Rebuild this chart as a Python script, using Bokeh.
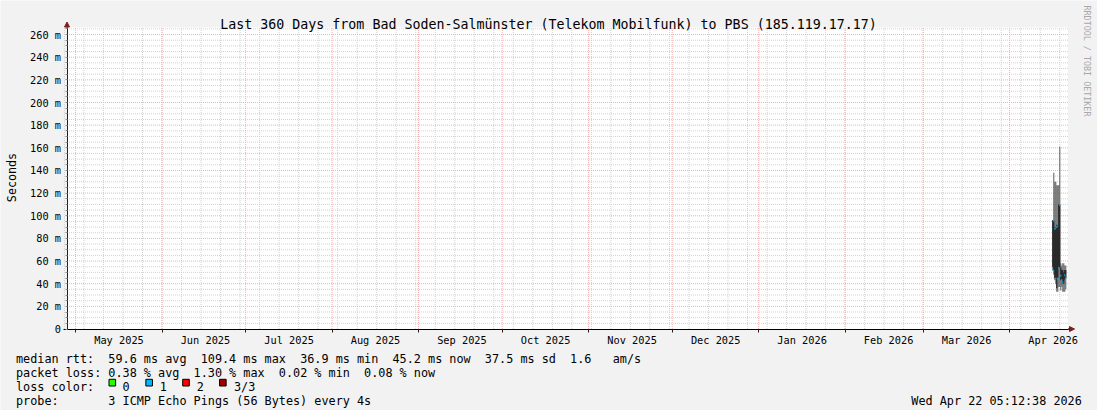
import re
import pandas as pd
from math import pi
from bokeh.plotting import figure
from bokeh.models import (Range1d, FixedTicker, Label, Arrow, NormalHead,
                          DatetimeTickFormatter, ColumnDataSource)
from bokeh.embed import file_html
from bokeh.resources import INLINE

# ---------------- data ----------------
title_text = "Last 360 Days from Bad Soden-Salmünster (Telekom Mobilfunk) to PBS (185.119.17.17)"
y_axis_label = "Seconds"
watermark = "RRDTOOL / TOBI OETIKER"

y_ticks = [0, 20, 40, 60, 80, 100, 120, 140, 160, 180, 200, 220, 240, 260]
y_tick_labels = ["0", "20 m", "40 m", "60 m", "80 m", "100 m", "120 m", "140 m",
                 "160 m", "180 m", "200 m", "220 m", "240 m", "260 m"]

month_starts = ["2025-05-01", "2025-06-01", "2025-07-01", "2025-08-01", "2025-09-01",
                "2025-10-01", "2025-11-01", "2025-12-01", "2026-01-01", "2026-02-01",
                "2026-03-01", "2026-04-01"]
month_labels = ["May 2025", "Jun 2025", "Jul 2025", "Aug 2025", "Sep 2025", "Oct 2025",
                "Nov 2025", "Dec 2025", "Jan 2026", "Feb 2026", "Mar 2026", "Apr 2026"]

# per-column samples (ms)
times = ["2026-04-16 11:50", "2026-04-16 20:30", "2026-04-17 05:10", "2026-04-17 13:40",
         "2026-04-17 22:20", "2026-04-18 07:00", "2026-04-18 15:30", "2026-04-19 00:10",
         "2026-04-19 08:50", "2026-04-19 17:20", "2026-04-20 02:00", "2026-04-20 10:40",
         "2026-04-20 19:10", "2026-04-21 03:50"]
ping_max = [96, 138, 130, 130, 127, 127, 127, 161, 58, 56, 58, 58, 56, 56]
smoke_hi = [96, 96, 90, 88, 92, 90, 110, 110, 54, 52, 52, 50, 52, 52]
smoke_lo = [55, 52, 45, 44, 36, 45, 54, 54, 43, 44, 40, 40, 44, 45]
ping_min = [52, 48, 43, 40, 33, 33, 37, 37, 34, 37, 33, 33, 33, 35]
median_rtt = [52, 95.5, 88.6, 44.5, 90.1, 44.5, 54, 109.4, 47, 43, 41, 36.9, 47.4, 45.2]
loss_level = [1, 1, 1, 1, 1, 1, 1, 1, 1, 1, 1, 1, 1, 1]

loss_colors = ["#26ff00", "#00b8ff", "#ff0000", "#a00000"]
loss_names = ["0", "1", "2", "3/3"]

legend_line1 = "median rtt:  59.6 ms avg  109.4 ms max  36.9 ms min  45.2 ms now  37.5 ms sd  1.6   am/s"
legend_line2 = "packet loss: 0.38 % avg  1.30 % max  0.02 % min  0.08 % now"
legend_line3 = "loss color:"
legend_line4 = "probe:       3 ICMP Echo Pings (56 Bytes) every 4s"
timestamp_text = "Wed Apr 22 05:12:38 2026"

# ---------------- layout constants ----------------
W, H = 1097, 410
PLOT_L, PLOT_W = 66.5, 1001.0           # plot area left edge / width (px)
Y0_PX, PX_PER_MS = 328.5, 1.1325        # pixel row of 0 ms, px per ms
PLOT_TOP = 27.0
PX_PER_DAY = 2.78816
DAY_MS = 86400000
FONT = "DejaVu Sans Mono"
CHAR_W = 7.104                          # advance of 11.8px DejaVu Sans Mono

T0 = pd.Timestamp("2025-04-27 22:15")


def ms(ts):
    return int(pd.Timestamp(ts).value // 10**6)


t0 = ms(T0)
t1 = int(t0 + PLOT_W / PX_PER_DAY * DAY_MS)
YMAX = (Y0_PX - PLOT_TOP) / PX_PER_MS

x_lo = t0 - PLOT_L / PX_PER_DAY * DAY_MS
x_hi = x_lo + W / PX_PER_DAY * DAY_MS
y_hi = Y0_PX / PX_PER_MS
y_lo = -(H - Y0_PX) / PX_PER_MS


def X(px):
    return x_lo + px / PX_PER_DAY * DAY_MS


def Y(py):
    return y_hi - py / PX_PER_MS


p = figure(width=W, height=H, x_axis_type="datetime", output_backend="svg",
           toolbar_location=None, title_location=None,
           min_border=0, min_border_left=0, min_border_right=0,
           min_border_top=0, min_border_bottom=0,
           x_range=Range1d(x_lo, x_hi), y_range=Range1d(y_lo, y_hi))
p.border_fill_color = "#f2f2f2"
p.background_fill_color = "#f2f2f2"
p.outline_line_color = None
p.xgrid.visible = False
p.ygrid.visible = False

# ---------------- plot area + grid ----------------
week_ticks = [ms(d) for d in pd.date_range("2025-04-27", "2026-04-22", freq="W-SUN")]
month_ticks = [ms(d) for d in month_starts]
minor_y = [v for v in range(5, 270, 5) if v % 20 != 0 and v < YMAX]

p.quad(left=[t0], right=[t1], bottom=[0], top=[YMAX], fill_color="#ffffff",
       line_color=None)

minor_c = "#d2d2d2"
major_c = "#f2b0b0"
p.segment(x0=week_ticks, y0=0, x1=week_ticks, y1=YMAX, line_color=minor_c,
          line_dash="1 1", line_width=1)
p.segment(x0=t0, y0=minor_y, x1=t1, y1=minor_y, line_color=minor_c,
          line_dash="1 1", line_width=1)
p.segment(x0=month_ticks, y0=0, x1=month_ticks, y1=YMAX, line_color=major_c,
          line_dash="1 1", line_width=1)
p.segment(x0=t0, y0=y_ticks[1:], x1=t1, y1=y_ticks[1:], line_color=major_c,
          line_dash="1 1", line_width=1)

# ---------------- data glyphs ----------------
src = ColumnDataSource(dict(
    t=[ms(t) for t in times], hi=ping_max, shi=smoke_hi, slo=smoke_lo, lo=ping_min,
    med=median_rtt, col=[loss_colors[l] for l in loss_level]))
col_w = 8.6 * 3600 * 1000
p.vbar(x="t", width=col_w, top="hi", bottom="lo", source=src,
       fill_color="#5c5c5c", line_color=None)
p.vbar(x="t", width=col_w, top="shi", bottom="slo", source=src,
       fill_color="#141414", line_color=None)
p.rect(x="t", y="med", width=col_w, height=2, height_units="screen", source=src,
       fill_color="col", line_color=None)

# ---------------- axes ----------------
label_pos = [ms(pd.Timestamp(d) + pd.Timedelta(hours=374)) for d in month_starts]
xa = p.xaxis[0]
xa.fixed_location = 0
xa.bounds = (X(62.5), t1)
xa.ticker = FixedTicker(ticks=label_pos, minor_ticks=month_ticks)
xa.formatter = DatetimeTickFormatter(
    microseconds="%b %Y", milliseconds="%b %Y", seconds="%b %Y", minsec="%b %Y",
    minutes="%b %Y", hourmin="%b %Y", hours="%b %Y", days="%b %Y", months="%b %Y",
    years="%b %Y")
xa.major_label_overrides = {k: v for k, v in zip(label_pos, month_labels)}
xa.major_tick_line_color = None
xa.major_tick_out = 0
xa.major_tick_in = 0
xa.minor_tick_out = 3
xa.minor_tick_in = 0
xa.minor_tick_line_color = "#1f1f1f"
xa.axis_line_color = "#000000"
xa.major_label_standoff = 2
xa.major_label_text_font = FONT
xa.major_label_text_font_size = "10.3px"
xa.major_label_text_color = "#000000"

ya = p.yaxis[0]
ya.fixed_location = t0
ya.bounds = (0, YMAX)
ya.ticker = FixedTicker(ticks=y_ticks, minor_ticks=minor_y)
ya.major_label_overrides = {k: v for k, v in zip(y_ticks, y_tick_labels)}
ya.major_tick_out = 2
ya.major_tick_in = 0
ya.minor_tick_out = 2
ya.minor_tick_in = 0
ya.major_tick_line_color = "#8f8f8f"
ya.minor_tick_line_color = "#8f8f8f"
ya.axis_line_color = "#1f1f1f"
ya.major_label_standoff = 4
ya.major_label_text_font = FONT
ya.major_label_text_font_size = "10.3px"
ya.major_label_text_color = "#000000"

# ---------------- arrows ----------------
arrow_c = "#801f1f"
p.add_layout(Arrow(end=NormalHead(size=5, fill_color=arrow_c, line_color=arrow_c,
                                  line_width=1),
                   x_start=t0, y_start=YMAX, x_end=t0, y_end=Y(21.5),
                   line_color="#1f1f1f", line_width=1))
p.add_layout(Arrow(end=NormalHead(size=5, fill_color=arrow_c, line_color=arrow_c,
                                  line_width=1),
                   x_start=t1, y_start=0, x_end=X(1074), y_end=0,
                   line_color="#000000", line_width=1))


# ---------------- texts ----------------
def lab(text, px, py, size, align="left", baseline="alphabetic", angle=0.0,
        color="#000000"):
    p.add_layout(Label(x=X(px), y=Y(py), text=text, text_font=FONT,
                       text_font_size=f"{size}px", text_align=align,
                       text_baseline=baseline, angle=angle, text_color=color))


def legend_row(line, py, x_left=15.5):
    # monospace row: each run of words (split at 2+ spaces) keeps its column
    for m in re.finditer(r"\S+(?: \S+)*", line):
        lab(m.group(0), x_left + CHAR_W * m.start(), py, 11.8)


lab(title_text, 548, 24, 13.3, align="center")
lab(y_axis_label, 11.5, 177, 11.7, align="center", angle=pi / 2)
lab(watermark, 1086, 5, 8.4, align="left", angle=-pi / 2, color="#a8a8a8")

legend_row(legend_line1, 358.3)
legend_row(legend_line2, 372.2)
legend_row(legend_line3, 386.1)
legend_row(legend_line4, 400.3)
lab(timestamp_text, 1081.3, 400.3, 11.8, align="right")

SW_STEP, SW_W = 36.85, 6.6
sw_left = [108.5 + SW_STEP * i for i in range(len(loss_colors))]
txt_left = [122.0 + 37.15 * i for i in range(len(loss_names))]
p.quad(left=[X(s) for s in sw_left], right=[X(s + SW_W) for s in sw_left],
       top=Y(378.8), bottom=Y(385.5), fill_color=loss_colors, line_color="#000000",
       line_width=1)
for name, tl in zip(loss_names, txt_left):
    lab(name, tl, 386.1, 11.8)

open("out.html", "w").write(file_html(p, INLINE))
